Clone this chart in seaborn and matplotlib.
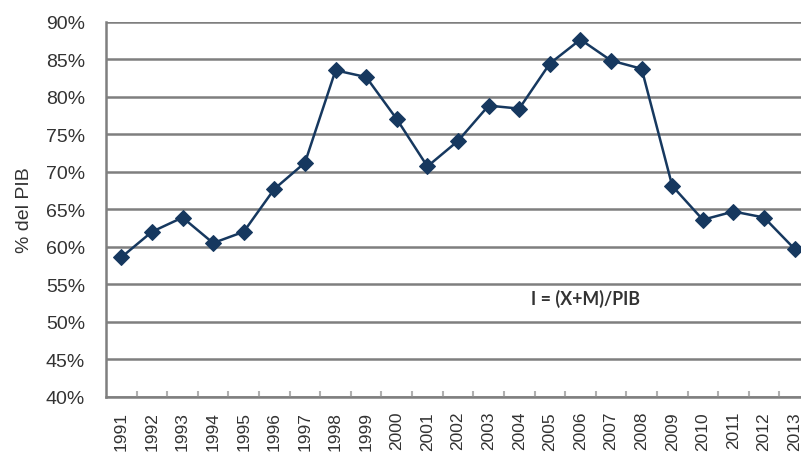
import matplotlib.pyplot as plt
import seaborn as sns
import pandas as pd
from matplotlib.ticker import FixedLocator

# datos
anios = [str(a) for a in range(1991, 2014)]
apertura = [58.6, 62.0, 63.9, 60.5, 62.0, 67.7, 71.2, 83.5, 82.6, 77.0, 70.7, 74.1,
            78.8, 78.4, 84.4, 87.6, 84.8, 83.7, 68.1, 63.6, 64.7, 63.9, 59.7]
ticks_y = [40, 45, 50, 55, 60, 65, 70, 75, 80, 85, 90]

df = pd.DataFrame({"anio": anios, "apertura": apertura})

sns.set_theme(style="white")
plt.rcParams["font.family"] = ["Liberation Sans", "DejaVu Sans"]

fig = plt.figure(figsize=(8.01, 4.56), dpi=100)
ax = fig.add_axes([106 / 801, 58 / 456, 704 / 801, 375.5 / 456])

gris = "#7f7f7f"
for v in ticks_y:
    ax.axhline(v, color=gris, lw=1.8, zorder=0)

sns.lineplot(data=df, x="anio", y="apertura", ax=ax, color="#16385f",
             marker="D", markersize=8, markeredgecolor="#16385f", lw=1.8,
             sort=False)

ax.set_xlim(-0.5, len(anios) - 0.5)
ax.set_ylim(40, 90)
ax.set_yticks(ticks_y)
ax.set_yticklabels([f"{v}%" for v in ticks_y], fontsize=14, color="#333333")
ax.set_xticks(range(len(anios)))
ax.set_xticklabels(anios, rotation=90, fontsize=12.5, color="#333333")
ax.xaxis.set_minor_locator(FixedLocator([i + 0.5 for i in range(len(anios) - 1)]))
ax.tick_params(axis="x", which="major", length=0, pad=10)
ax.tick_params(axis="x", which="minor", direction="in", length=4, width=1.5,
               color="#b0b0b0", bottom=True)
ax.tick_params(axis="y", length=0, pad=15)

ax.set_xlabel("")
ax.set_ylabel("% del PIB", fontsize=14, color="#333333", labelpad=9)

for lado in ["top", "right"]:
    ax.spines[lado].set_visible(False)
for lado in ["left", "bottom"]:
    ax.spines[lado].set_color(gris)
    ax.spines[lado].set_linewidth(1.8)

ax.text(15.15, 53.2, "I = (X+M)/PIB", fontsize=12.8, fontweight="bold",
        family=["Lato", "DejaVu Sans"], color="#333333", ha="center", va="center")

fig.savefig("out.png", dpi=100)
